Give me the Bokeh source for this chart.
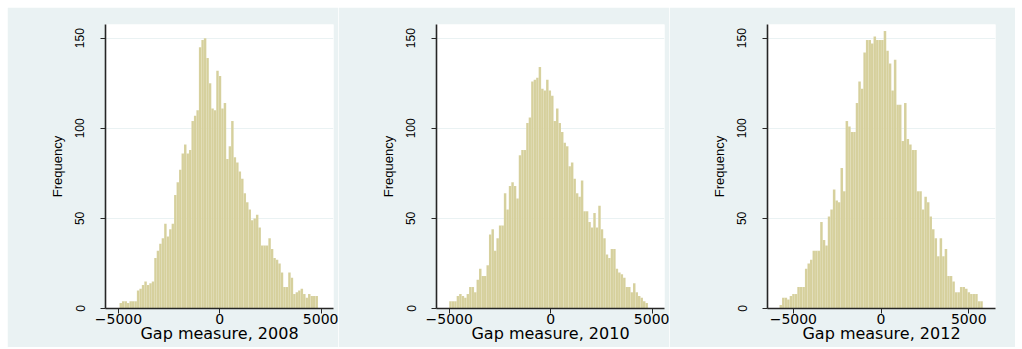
import numpy as np
from bokeh.plotting import figure
from bokeh.layouts import row
from bokeh.models import Range1d, FixedTicker
from bokeh.embed import file_html
from bokeh.resources import INLINE

# Histogram counts of the gap measure, 80 equal-width bins per year
years = ["2008", "2010", "2012"]

freq_2008 = [3, 4, 4, 3, 4, 4, 4, 10, 11, 13, 15, 13, 14, 15, 28, 32, 36, 39, 47, 40,
             44, 47, 63, 70, 77, 86, 91, 86, 88, 104, 107, 110, 145, 149, 150, 139, 125, 111, 110, 132,
             129, 111, 114, 83, 90, 104, 84, 81, 76, 72, 64, 59, 55, 49, 50, 52, 45, 35, 35, 35,
             39, 33, 28, 27, 25, 20, 12, 12, 20, 17, 8, 9, 10, 11, 8, 6, 8, 7, 7, 7]

freq_2010 = [4, 4, 4, 7, 8, 7, 6, 8, 12, 12, 9, 16, 22, 18, 18, 24, 41, 44, 32, 39,
             46, 46, 64, 55, 68, 70, 68, 61, 85, 88, 88, 103, 106, 126, 127, 128, 134, 122, 121, 127,
             121, 118, 104, 111, 103, 98, 92, 90, 79, 81, 72, 64, 62, 71, 54, 54, 48, 45, 53, 45,
             57, 44, 39, 30, 28, 33, 33, 22, 20, 19, 17, 12, 12, 9, 14, 9, 7, 6, 4, 3]

freq_2012 = [2, 6, 6, 5, 7, 8, 8, 12, 12, 12, 22, 25, 27, 32, 32, 32, 48, 38, 35, 51,
             55, 66, 60, 59, 78, 65, 104, 101, 98, 98, 114, 126, 122, 142, 149, 149, 147, 151, 149, 149,
             149, 154, 143, 136, 121, 138, 113, 113, 93, 114, 94, 91, 88, 88, 65, 65, 55, 62, 59, 51,
             44, 39, 29, 39, 29, 33, 18, 18, 15, 9, 9, 12, 12, 11, 9, 8, 8, 8, 4, 4]

# smallest and largest gap value per year (outer bin edges)
gap_min = [-4950, -5000, -5788]
gap_max = [4845, 4790, 5800]

# axis extents
x_lo = [-5642, -5627, -6473]
x_hi = [5612, 5607, 6524]
y_top = 157.6

x_ticks = [-5000, 0, 5000]
y_ticks = [0, 50, 100, 150]

BG = "#EAF2F3"
BAR = "#D6D09C"
AXIS = "#262626"

freqs = [freq_2008, freq_2010, freq_2012]
widths = [331, 331, 346]
margins = [(7, 0, 2, 7), (7, 0, 2, 0), (7, 0, 2, 0)]
right_borders = [5, 5, 20]

panels = []
for k, yr in enumerate(years):
    counts = np.asarray(freqs[k], dtype=float)
    edges = np.linspace(gap_min[k], gap_max[k], len(counts) + 1)

    p = figure(width=widths[k], height=340, output_backend="svg", toolbar_location=None,
               x_range=Range1d(x_lo[k], x_hi[k]), y_range=Range1d(0, y_top),
               min_border_left=98, min_border_right=right_borders[k],
               min_border_top=17, min_border_bottom=39,
               background_fill_color="white", border_fill_color=BG,
               outline_line_color=None, margin=margins[k])

    p.quad(left=edges[:-1], right=edges[1:], bottom=0, top=counts,
           fill_color=BAR, line_color="white", line_alpha=0.15, line_width=0.5)

    p.xgrid.grid_line_color = None
    p.ygrid.ticker = FixedTicker(ticks=[50, 100, 150])
    p.ygrid.grid_line_color = BG
    p.ygrid.grid_line_width = 1

    xa = p.xaxis[0]
    xa.ticker = FixedTicker(ticks=x_ticks)
    xa.axis_label = f"Gap measure, {yr}"
    xa.axis_line_color = AXIS
    xa.axis_line_width = 1.3
    xa.major_tick_line_color = AXIS
    xa.major_tick_out = 5
    xa.major_tick_in = 0
    xa.minor_tick_line_color = None
    xa.major_label_standoff = 0
    xa.major_label_text_font = "DejaVu Sans"
    xa.major_label_text_font_size = "14px"
    xa.major_label_text_color = "black"
    xa.axis_label_text_font = "DejaVu Sans"
    xa.axis_label_text_font_size = "16px"
    xa.axis_label_text_font_style = "normal"
    xa.axis_label_text_color = "black"
    xa.axis_label_standoff = -3

    ya = p.yaxis[0]
    ya.ticker = FixedTicker(ticks=y_ticks)
    ya.axis_label = "Frequency"
    ya.axis_line_color = AXIS
    ya.axis_line_width = 1.6
    ya.major_tick_line_color = AXIS
    ya.major_tick_out = 5
    ya.major_tick_in = 0
    ya.minor_tick_line_color = None
    ya.major_label_orientation = "vertical"
    ya.major_label_standoff = 16
    ya.major_label_text_font = "Liberation Sans"
    ya.major_label_text_font_size = "12px"
    ya.major_label_text_color = "black"
    ya.axis_label_text_font = "Liberation Sans"
    ya.axis_label_text_font_size = "13px"
    ya.axis_label_text_font_style = "normal"
    ya.axis_label_text_color = "black"
    ya.axis_label_standoff = 8

    panels.append(p)

layout = row(*panels, spacing=0)
open("out.html", "w").write(file_html(layout, INLINE))
